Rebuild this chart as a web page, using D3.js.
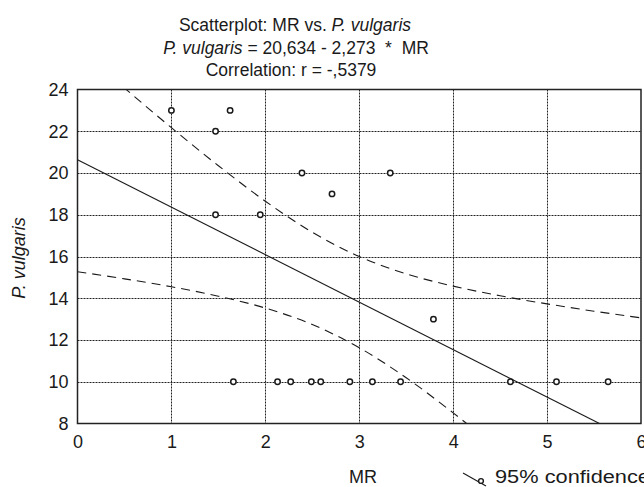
<!DOCTYPE html>
<html><head><meta charset="utf-8">
<script src="https://cdn.jsdelivr.net/npm/d3@7"></script>
<style>
html,body{margin:0;padding:0;background:#fff;}
svg{display:block;font-family:"Liberation Sans",Arial,sans-serif;}
</style></head>
<body>
<svg id="chart" width="644" height="487"></svg>
<script>
// ---- data ----
const mrValues = [1.0, 1.47, 1.47, 1.625, 1.946, 2.39, 2.71, 3.33, 3.79,
                  1.66, 2.13, 2.27, 2.49, 2.59, 2.90, 3.14, 3.44, 4.61, 5.10, 5.65];
const vulgarisValues = [23, 22, 18, 23, 18, 20, 19, 20, 13,
                        10, 10, 10, 10, 10, 10, 10, 10, 10, 10, 10];
// regression line endpoints (P. vulgaris = 20,634 - 2,273 * MR)
const fitX = [0, 5.558];
const fitY = [20.634, 8];
// 95% confidence band, read along MR
const bandX = [0, 0.5, 1, 1.5, 2, 2.5, 3, 3.5, 4, 4.5, 5, 5.5, 6];
const bandUpper = [26.00, 24.07, 22.17, 20.35, 18.65, 17.16, 16.00, 15.17, 14.58, 14.12, 13.73, 13.38, 13.06];
const bandLower = [15.27, 14.93, 14.55, 14.10, 13.53, 12.74, 11.63, 10.19, 8.51, 6.70, 4.81, 2.89, 0.93];
const xTicks = [0, 1, 2, 3, 4, 5, 6];
const yTicks = [8, 10, 12, 14, 16, 18, 20, 22, 24];

const svg = d3.select("#chart");
const L = 77.5, R = 641, T = 89.5, B = 423.5;
const x = d3.scaleLinear().domain([0, 6]).range([L, R]);
const y = d3.scaleLinear().domain([8, 24]).range([B, T]);
const ink = "#1a1a1a";
const NB = "\u00a0";

// clip
svg.append("defs").append("clipPath").attr("id", "plotclip")
  .append("rect").attr("x", L).attr("y", T).attr("width", R - L).attr("height", B - T);

// grid
const grid = svg.append("g");
grid.selectAll("line.gx").data(xTicks.filter(d => d > 0 && d < 6)).join("line")
  .attr("x1", d => Math.round(x(d)) + 0.5).attr("x2", d => Math.round(x(d)) + 0.5)
  .attr("y1", T).attr("y2", B)
  .attr("stroke", "#222").attr("stroke-width", 1).attr("stroke-dasharray", "2,1");
grid.selectAll("line.gy").data(yTicks.filter(d => d > 8 && d < 24)).join("line")
  .attr("y1", d => Math.round(y(d)) + 0.5).attr("y2", d => Math.round(y(d)) + 0.5)
  .attr("x1", L).attr("x2", R)
  .attr("stroke", "#222").attr("stroke-width", 1).attr("stroke-dasharray", "2,1");

// plot contents
const plot = svg.append("g").attr("clip-path", "url(#plotclip)");
const bandLine = d3.line().x(d => x(d[0])).y(d => y(d[1])).curve(d3.curveCatmullRom);
plot.append("path").datum(bandX.map((v, i) => [v, bandUpper[i]]))
  .attr("d", bandLine).attr("fill", "none").attr("stroke", ink)
  .attr("stroke-width", 1.1).attr("stroke-dasharray", "9,6");
plot.append("path").datum(bandX.map((v, i) => [v, bandLower[i]]))
  .attr("d", bandLine).attr("fill", "none").attr("stroke", ink)
  .attr("stroke-width", 1.1).attr("stroke-dasharray", "9,6");
plot.append("path").datum(fitX.map((v, i) => [v, fitY[i]]))
  .attr("d", d3.line().x(d => x(d[0])).y(d => y(d[1])))
  .attr("fill", "none").attr("stroke", ink).attr("stroke-width", 1.1);

plot.selectAll("circle").data(mrValues.map((v, i) => [v, vulgarisValues[i]])).join("circle")
  .attr("cx", d => x(d[0])).attr("cy", d => y(d[1])).attr("r", 2.7)
  .attr("fill", "#fff").attr("stroke", ink).attr("stroke-width", 1.5);

// frame
svg.append("rect").attr("x", L).attr("y", T).attr("width", R - L).attr("height", B - T)
  .attr("fill", "none").attr("stroke", "#222").attr("stroke-width", 1.5);

// axes labels via d3 axes
const xAxis = svg.append("g").attr("transform", `translate(0,${B})`)
  .call(d3.axisBottom(x).tickValues(xTicks).tickSize(0).tickPadding(12).tickFormat(d3.format("d")));
xAxis.select(".domain").remove();
xAxis.selectAll("text").attr("font-size", 18).attr("fill", ink).attr("font-family", "Liberation Sans, Arial, sans-serif");

const yAxis = svg.append("g").attr("transform", `translate(${L},0)`)
  .call(d3.axisLeft(y).tickValues(yTicks).tickSize(0).tickPadding(9).tickFormat(d3.format("d")));
yAxis.select(".domain").remove();
yAxis.selectAll("text").attr("font-size", 18).attr("fill", ink).attr("font-family", "Liberation Sans, Arial, sans-serif");

// titles
const title = svg.append("g").attr("font-size", 17.5).attr("fill", ink).attr("text-anchor", "middle");
const t1 = title.append("text").attr("x", 295).attr("y", 31);
t1.append("tspan").text("Scatterplot: MR vs. ");
t1.append("tspan").attr("font-style", "italic").text("P. vulgaris");
const t2 = title.append("text").attr("x", 296).attr("y", 54);
t2.append("tspan").attr("font-style", "italic").text("P. vulgaris");
t2.append("tspan").text(" = 20,634 - 2,273" + NB + NB + "*" + NB + NB + "MR");
title.append("text").attr("x", 291).attr("y", 76).text("Correlation: r = -,5379");

svg.append("text").attr("transform", "translate(25,258) rotate(-90)")
  .attr("text-anchor", "middle").attr("font-size", 18).attr("font-style", "italic")
  .attr("fill", ink).text("P. vulgaris");

svg.append("text").attr("x", 363).attr("y", 483).attr("text-anchor", "middle")
  .attr("font-size", 18).attr("fill", ink).text("MR");

// legend
const lg = svg.append("g");
lg.append("line").attr("x1", 463).attr("y1", 473).attr("x2", 486).attr("y2", 486)
  .attr("stroke", ink).attr("stroke-width", 1.1);
lg.append("circle").attr("cx", 481).attr("cy", 481).attr("r", 2.4)
  .attr("fill", "#fff").attr("stroke", ink).attr("stroke-width", 1.4);
lg.append("text").attr("x", 495).attr("y", 483).attr("font-size", 17.5).attr("fill", ink)
  .attr("textLength", 155).attr("lengthAdjust", "spacingAndGlyphs")
  .text("95% confidence");
</script>
</body></html>
